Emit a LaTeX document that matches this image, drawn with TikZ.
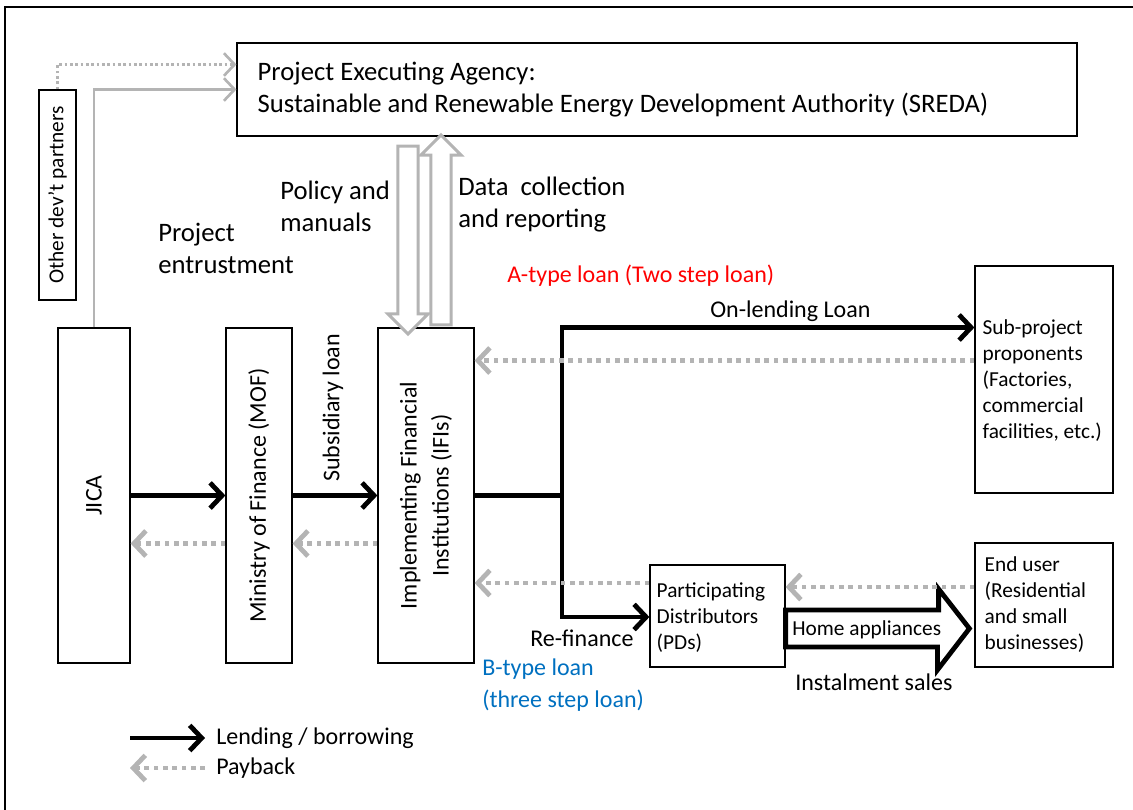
\documentclass[tikz,border=0pt]{standalone}
\usepackage{fontspec}
\setmainfont{Carlito}
\usetikzlibrary{positioning}
\usetikzlibrary{arrows.meta,shapes}
\usetikzlibrary{calc}
\definecolor{paygray}{RGB}{180,180,180}
\definecolor{atype}{RGB}{255,0,0}
\definecolor{btype}{RGB}{0,112,192}
\tikzstyle{box}=[draw,line width=0.9pt,fill=white,inner sep=0pt]
\tikzstyle{lend} = [draw,line width=3.6pt,-{Straight Barb[length=9pt,width=19pt]}]
\tikzstyle{trunk} = [draw,line width=3.6pt]
\tikzstyle{payback} = [draw,paygray,line width=3.6pt,dash pattern=on 3.6pt off 3.4pt,-{Straight Barb[length=9pt,width=19pt]}]
\tikzstyle{entrust} = [draw,paygray,line width=2pt,-{Straight Barb[length=8pt,width=17pt]}]
\tikzstyle{txt} = [inner sep=0pt,align=left,anchor=west]
\tikzstyle{big} = [font=\fontsize{20pt}{24pt}\selectfont]
\tikzstyle{small} = [font=\fontsize{16pt}{19.5pt}\selectfont]
\tikzstyle{blockarrow} = [single arrow,draw,fill=white]

\begin{document}
\begin{tikzpicture}[x=0.75pt,y=-0.75pt,font=\fontsize{18pt}{24pt}\selectfont]
    \useasboundingbox (0,0) rectangle (1133,810);
    \draw[line width=1.5pt] (5,810) -- (5,7) -- (1133,7);

    \foreach \pos/\name/\w/\h in { {(94,495.5)/jica/72/335}, {(259,495.5)/mof/66/335}, {(426,495.5)/ifi/96/335}, {(657,89.5)/sreda/840/93}, {(57.5,195)/other/37/210}, {(1044,379.5)/sub/138/227}, {(717.5,616)/pds/135/102}, {(1044,605)/endu/138/124}}
        \node[box, minimum width=\w*0.75pt, minimum height=\h*0.75pt] (\name) at \pos {};

    % box texts
    \node[txt,big] at ($(sreda.west)+(21,0)$) {Project Executing Agency:\\Sustainable and Renewable Energy Development Authority (SREDA)};
    \node[rotate=90,small] at (other) {Other dev’t partners};
    \node[rotate=90] at (jica) {JICA};
    \node[rotate=90] at (mof) {Ministry of Finance (MOF)};
    \node[rotate=90,align=center] at (ifi) {Implementing Financial\\Institutions (IFIs)};
    \node[txt,small] at ($(sub.west)+(8,1)$) {Sub-project\\proponents\\(Factories,\\commercial\\facilities, etc.)};
    \node[txt,small] at ($(pds.west)+(7,2)$) {Participating\\Distributors\\(PDs)};
    \node[txt,small] at ($(endu.west)+(10,0)$) {End user\\(Residential\\and small\\businesses)};

    % SREDA links
    \path[entrust,dash pattern=on 2pt off 2pt] (other.north) |- ($(sreda.west)+(0,-25)$);
    \path[entrust] (jica.north) |- (sreda.west);
    \node[blockarrow, draw=paygray, line width=2.2pt, shape border rotate=270, inner sep=6.5pt, minimum height=188*0.75pt, single arrow head extend=10*0.75pt] (policy) at (408,235) {};
    \node[blockarrow, draw=paygray, line width=2.2pt, shape border rotate=90, inner sep=6.5pt, minimum height=190*0.75pt, single arrow head extend=10*0.75pt] (report) at (441,235) {};

    % lending
    \coordinate (split) at (562,495.5);
    \path[lend] (jica.east) -- (mof.west);
    \path[lend] (mof.east) -- (ifi.west);
    \path[trunk] (ifi.east) -- (split);
    \path[lend] (split) |- ($(sub.west)+(0,-52)$);
    \path[lend] (split) |- ($(pds.west)+(0,1)$);
    \draw[line width=3.6pt, fill=white] ($(pds.east)+(0,-6)$) -- ++(153,0) -- ++(0,-21) -- ($(endu.west)+(-5,23.5)$) -- ++(-32,41.5) -- ++(0,-23) -- ($(pds.east)+(0,31)$) -- cycle;

    % payback
    \path[payback] ($(mof.west)+(0,48)$) -- ($(jica.east)+(0,48)$);
    \path[payback] ($(ifi.west)+(0,48)$) -- ($(mof.east)+(0,48)$);
    \path[payback] ($(sub.west)+(0,-19)$) -- ($(ifi.east)+(0,-135)$);
    \path[payback] ($(pds.west)+(0,-33)$) -- ($(ifi.east)+(0,87.5)$);
    \path[payback] ($(endu.west)+(0,-18)$) -- ($(pds.east)+(0,-29)$);

    % labels
    \node[txt,big] (entr) at (158,248) {Project\\entrustment};
    \node[txt,big] (pol) at (280,206) {Policy and\\manuals};
    \node[txt,big] (dat) at (458,205) {Data\ \ collection\\and reporting};
    \node[txt,text=atype] (atxt) at (507,276) {A-type loan (Two step loan)};
    \node[txt] (onl) at (710,311) {On-lending Loan};
    \node[rotate=90] (subs) at (333,408) {Subsidiary loan};
    \node[txt] (refi) at (530,638) {Re-finance};
    \node[txt,text=btype] (btxt) at (482,685) {B-type loan\\(three step loan)};
    \node[txt,small] (home) at (792,630) {Home appliances};
    \node[txt] (inst) at (795,682) {Instalment sales};

    % legend
    \coordinate (lgA) at (130,738);
    \coordinate (lgB) at (205,738);
    \coordinate (lgC) at (130,768);
    \coordinate (lgD) at (205,768);
    \path[lend] (lgA) -- (lgB);
    \path[payback] (lgD) -- (lgC);
    \node[txt] (lgl) at (216,738) {Lending / borrowing};
    \node[txt] (lgp) at (216,768) {Payback};
\end{tikzpicture}
\end{document}
